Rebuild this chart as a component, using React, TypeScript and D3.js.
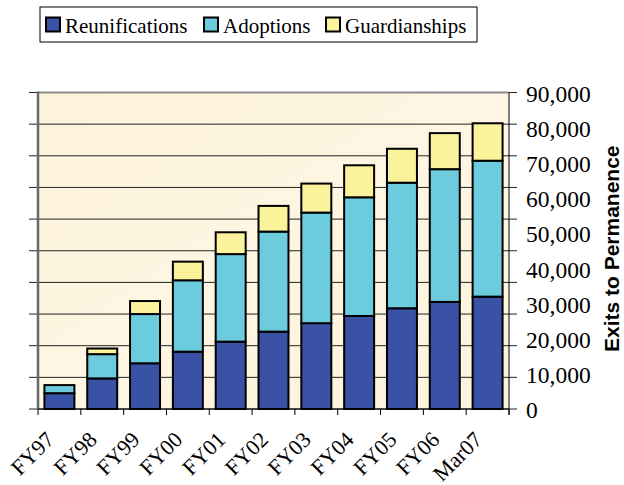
import React from "react";
import * as d3 from "d3";

const categories = ["FY97", "FY98", "FY99", "FY00", "FY01", "FY02", "FY03", "FY04", "FY05", "FY06", "Mar07"];
const reunifications = [4500, 8700, 13000, 16300, 19150, 22000, 24400, 26450, 28650, 30450, 31950];
const adoptions = [2300, 6900, 14000, 20300, 24900, 28450, 31450, 33750, 35700, 37750, 38650];
const guardianships = [0, 1600, 3700, 5300, 6200, 7300, 8250, 9100, 9650, 10250, 10650];
const seriesNames = ["Reunifications", "Adoptions", "Guardianships"];
const seriesColors = ["#3a52a5", "#6ccbdc", "#fbf39b"];
const yTickValues = [0, 10000, 20000, 30000, 40000, 50000, 60000, 70000, 80000, 90000];
const axisTitle = "Exits to Permanence";

const W = 624, H = 485;
const plot = { left: 38, right: 509, top: 92.5, bottom: 409 };

export default function App() {
  const x = d3.scaleBand<string>().domain(categories).range([plot.left, plot.right]).paddingInner(0.3).paddingOuter(0.15);
  const y = d3.scaleLinear().domain([0, 90000]).range([plot.bottom, plot.top]);
  const rows = categories.map((c, i) => ({ cat: c, Reunifications: reunifications[i], Adoptions: adoptions[i], Guardianships: guardianships[i] }));
  const stacked = d3.stack<any>().keys(seriesNames)(rows);
  const gridVals = d3.range(0, 11).map((i) => i * 9000);
  const step = x.step();
  const boundaries = d3.range(0, categories.length + 1).map((i) => plot.left + i * step);
  const fmt = d3.format(",");
  const legendX = [46, 204, 326];

  return (
    <svg width={W} height={H} style={{ position: "absolute", left: 0, top: 0 }}>
      <defs>
        <linearGradient id="bg" x1="0" y1="0" x2="1" y2="1">
          <stop offset="0" stopColor="#fdf2da" />
          <stop offset="0.5" stopColor="#fef6e3" />
          <stop offset="1" stopColor="#fdf3dc" />
        </linearGradient>
      </defs>
      <rect x={0} y={0} width={W} height={H} fill="#fff" />
      {/* Legend */}
      <rect x={40} y={7} width={437} height={35} fill="#fff" stroke="#000" strokeWidth={1} />
      {seriesNames.map((s, i) => (
        <g key={s}>
          <rect x={legendX[i]} y={17.5} width={14} height={14} fill={seriesColors[i]} stroke="#000" strokeWidth={2} />
          <text x={legendX[i] + 19} y={33} fontFamily="'Liberation Serif', 'Times New Roman', serif" fontSize={21} fill="#000">{s}</text>
        </g>
      ))}
      {/* Plot background */}
      <rect x={plot.left} y={plot.top} width={plot.right - plot.left} height={plot.bottom - plot.top} fill="url(#bg)" />
      {/* Gridlines */}
      {gridVals.map((v) => (
        <line key={v} x1={plot.left - 9} x2={plot.right + 8} y1={y(v)} y2={y(v)} stroke="#222" strokeWidth={1} />
      ))}
      {/* Bars */}
      {stacked.map((layer, si) => (
        <g key={seriesNames[si]}>
          {layer.map((d: any, i: number) => {
            const h = y(d[0]) - y(d[1]);
            if (h <= 0) return null;
            return (
              <rect key={i} x={x(categories[i])!} y={y(d[1])} width={x.bandwidth()} height={h}
                fill={seriesColors[si]} stroke="#000" strokeWidth={2} />
            );
          })}
        </g>
      ))}
      {/* Axes / borders */}
      <line x1={plot.left} x2={plot.right} y1={plot.top} y2={plot.top} stroke="#8a8a8a" strokeWidth={2} />
      <line x1={plot.left} x2={plot.left} y1={plot.top - 1} y2={plot.bottom} stroke="#6a6a6a" strokeWidth={2.5} />
      <line x1={plot.right} x2={plot.right} y1={plot.top} y2={plot.bottom + 6} stroke="#000" strokeWidth={1} />
      <line x1={plot.left} x2={plot.right} y1={plot.bottom} y2={plot.bottom} stroke="#000" strokeWidth={1.2} />
      {boundaries.map((bx, i) => (
        <line key={i} x1={bx} x2={bx} y1={plot.bottom} y2={plot.bottom + 6} stroke="#000" strokeWidth={1} />
      ))}
      {/* Category labels */}
      {categories.map((c) => (
        <text key={c} transform={`translate(${x(c)! + x.bandwidth() / 2 - 4},${441}) rotate(-45)`} textAnchor="end"
          fontFamily="'Liberation Serif', 'Times New Roman', serif" fontSize={22} fill="#000">{c}</text>
      ))}
      {/* Right tick labels */}
      {yTickValues.map((v) => (
        <text key={v} x={526} y={y(v) + 1} dy="0.35em" fontFamily="'Liberation Serif', 'Times New Roman', serif" fontSize={23.5} fill="#000">{fmt(v)}</text>
      ))}
      <text transform={`translate(${619},${(plot.top + plot.bottom) / 2 - 2}) rotate(-90)`} textAnchor="middle"
        fontFamily="'Liberation Sans', Arial, sans-serif" fontWeight="bold" fontSize={21} fill="#000">{axisTitle}</text>
    </svg>
  );
}
